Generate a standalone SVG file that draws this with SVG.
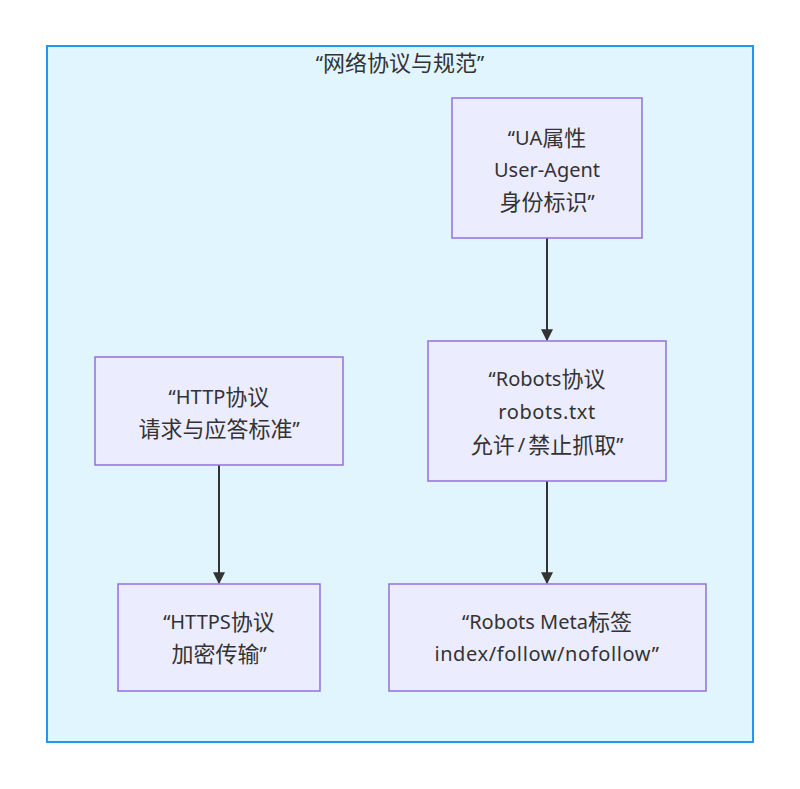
<svg xmlns="http://www.w3.org/2000/svg" width="800" height="789" viewBox="0 0 800 789">
<style>
.cl{fill:#E1F5FE;stroke:#2196F3;stroke-width:2}
.n{fill:#ECECFF;stroke:#9370DB;stroke-width:1.5}
.t{font-family:"Noto Sans","Noto Sans CJK SC",sans-serif;font-size:20px;fill:#333;text-anchor:middle;dominant-baseline:central}
.c{font-size:22px}
.w{letter-spacing:0.6px}
.e{stroke:#333;stroke-width:2;fill:none}
</style>
<defs>
<marker id="ah" viewBox="0 0 10 10" refX="9" refY="5" markerWidth="12" markerHeight="12" markerUnits="userSpaceOnUse" orient="auto">
<path d="M0,0 L10,5 L0,10 z" fill="#333"/>
</marker>
</defs>
<rect width="800" height="789" fill="#fff"/>
<g id="cluster">
<rect class="cl" x="47" y="46" width="706" height="696"/>
<text class="t" x="400" y="62">“<tspan class="c">网络协议与规范</tspan>”</text>
</g>
<g id="edges">
<path class="e" d="M547,238 L547,340" marker-end="url(#ah)"/>
<path class="e" d="M547,481 L547,583" marker-end="url(#ah)"/>
<path class="e" d="M219,465 L219,583" marker-end="url(#ah)"/>
</g>
<g id="ua">
<rect class="n" x="452" y="98" width="190" height="140"/>
<text class="t" x="547" y="137">“UA<tspan class="c">属性</tspan></text>
<text class="t" x="547" y="169">User-Agent</text>
<text class="t" x="547" y="201"><tspan class="c">身份标识</tspan>”</text>
</g>
<g id="robots">
<rect class="n" x="428" y="341" width="238" height="140"/>
<text class="t" x="547" y="378">“Robots<tspan class="c">协议</tspan></text>
<text class="t w" x="547" y="411">robots.txt</text>
<text class="t" x="547" y="444"><tspan class="c">允许</tspan><tspan dx="3">/</tspan><tspan class="c" dx="3">禁止抓取</tspan>”</text>
</g>
<g id="http">
<rect class="n" x="95" y="357" width="248" height="108"/>
<text class="t" x="219" y="396">“HTTP<tspan class="c">协议</tspan></text>
<text class="t" x="219" y="428"><tspan class="c">请求与应答标准</tspan>”</text>
</g>
<g id="https">
<rect class="n" x="118" y="584" width="202" height="107"/>
<text class="t" x="219" y="621">“HTTPS<tspan class="c">协议</tspan></text>
<text class="t" x="219" y="653"><tspan class="c">加密传输</tspan>”</text>
</g>
<g id="meta">
<rect class="n" x="389" y="584" width="317" height="107"/>
<text class="t" x="547" y="621">“Robots Meta<tspan class="c">标签</tspan></text>
<text class="t w" x="547" y="653">index/follow/nofollow”</text>
</g>
</svg>
